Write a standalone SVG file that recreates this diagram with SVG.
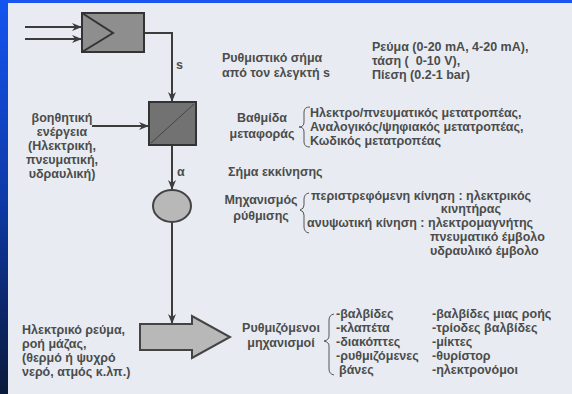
<svg xmlns="http://www.w3.org/2000/svg" width="572" height="394" viewBox="0 0 572 394">
<defs>
<linearGradient id="side" x1="0" y1="0" x2="0" y2="1">
<stop offset="0" stop-color="#1454f0"/>
<stop offset="0.5" stop-color="#0e3aa8"/>
<stop offset="1" stop-color="#0a1a3c"/>
</linearGradient>
<marker id="ah" viewBox="0 0 10 8" refX="10" refY="4" markerWidth="10" markerHeight="8" markerUnits="userSpaceOnUse" orient="auto">
<path d="M0,0 L10,4 L0,8 L3,4 z" fill="#3c3c3c"/>
</marker>
<style>
text{font-family:"Liberation Sans",Arial,sans-serif;font-size:12.5px;font-weight:bold;fill:#4c4c4c}
.c{text-anchor:middle}
.e{text-anchor:end}
.ln{fill:none;stroke:#3c3c3c;stroke-width:2}
.br{fill:none;stroke:#555;stroke-width:1}
.box{stroke:#333;stroke-width:2}
</style>
</defs>
<rect x="0" y="0" width="572" height="394" fill="#e8ecf2"/>
<rect x="0" y="0" width="572" height="3" fill="#1a55f2"/>
<rect x="0" y="0" width="8" height="394" fill="url(#side)"/>

<g id="connectors">
<line class="ln" x1="25" y1="27" x2="82" y2="27" marker-end="url(#ah)"/>
<line class="ln" x1="25" y1="39" x2="82" y2="39" marker-end="url(#ah)"/>
<polyline class="ln" points="144,33 172,33 172,102" marker-end="url(#ah)"/>
<line class="ln" x1="92" y1="126" x2="149" y2="126" marker-end="url(#ah)"/>
<line class="ln" x1="172" y1="145" x2="172" y2="190" marker-end="url(#ah)"/>
<line class="ln" x1="172" y1="222" x2="172" y2="324" marker-end="url(#ah)"/>
</g>

<g id="amplifier">
<rect class="box" x="82" y="13" width="62" height="39" fill="#8e8e8e"/>
<polyline points="82,13 113,33 82,52" fill="none" stroke="#333" stroke-width="2"/>
</g>

<g id="transfer">
<rect class="box" x="149" y="102" width="47" height="43" fill="#727272"/>
<line x1="151" y1="143" x2="194" y2="104" stroke="#444" stroke-width="1"/>
</g>

<g id="actuator">
<ellipse cx="172" cy="206" rx="19" ry="16" fill="#b8b8b8" stroke="#444" stroke-width="2"/>
</g>

<g id="controlled">
<polygon points="140,324 192,324 192,316 230,337 192,358 192,350 140,350" fill="#b8b8b8" stroke="#444" stroke-width="2"/>
</g>

<g id="labels-signals">
<text x="176" y="69">s</text>
<text x="177" y="176">α</text>
</g>

<g id="aux-energy">
<text class="c" x="62" y="122">βοηθητική</text>
<text class="c" x="62" y="136">ενέργεια</text>
<text class="c" x="62" y="150">(Ηλεκτρική,</text>
<text class="c" x="62" y="164">πνευματική,</text>
<text class="c" x="62" y="178">υδραυλική)</text>
</g>

<g id="signal-desc">
<text x="222" y="62">Ρυθμιστικό σήμα</text>
<text x="222" y="77">από τον ελεγκτή s</text>
<text x="372" y="51">Ρεύμα (0-20 mA, 4-20 mA),</text>
<text x="372" y="65" xml:space="preserve">τάση (  0-10 V),</text>
<text x="372" y="79">Πίεση (0.2-1 bar)</text>
</g>

<g id="transfer-desc">
<text class="c" x="262" y="122">Βαθμίδα</text>
<text class="c" x="262" y="138">μεταφοράς</text>
<path class="br" d="M310,107 Q304,107 304,112 L304,122 Q304,127 299,127 Q304,127 304,132 L304,142 Q304,147 310,147"/>
<text x="310" y="117">Ηλεκτρο/πνευματικός μετατροπέας,</text>
<text x="310" y="131">Αναλογικός/ψηφιακός μετατροπέας,</text>
<text x="310" y="145">Κωδικός μετατροπέας</text>
</g>

<g id="start-signal">
<text x="228" y="176">Σήμα εκκίνησης</text>
</g>

<g id="actuator-desc">
<text class="c" x="261" y="204">Μηχανισμός</text>
<text class="c" x="261" y="220">ρύθμισης</text>
<path class="br" d="M309,193 Q304,194 304,199 L304,205 Q304,209 300,210 Q304,211 304,215 L304,227 Q304,232 309,233"/>
<text x="311" y="200">περιστρεφόμενη κίνηση : ηλεκτρικός</text>
<text class="e" x="501" y="213">κινητήρας</text>
<text x="307" y="227">ανυψωτική κίνηση : ηλεκτρομαγνήτης</text>
<text x="430" y="241">πνευματικό έμβολο</text>
<text x="430" y="255">υδραυλικό έμβολο</text>
</g>

<g id="source-desc">
<text x="22" y="334">Ηλεκτρικό ρεύμα,</text>
<text x="22" y="348">ροή μάζας,</text>
<text x="22" y="362">(θερμό ή ψυχρό</text>
<text x="22" y="376">νερό, ατμός κ.λπ.)</text>
</g>

<g id="controlled-desc">
<text class="c" x="281" y="332">Ρυθμιζόμενοι</text>
<text class="c" x="281" y="347">μηχανισμοί</text>
<path class="br" d="M334,314 Q329,315 329,320 L329,336 Q329,340 324,341 Q329,342 329,346 L329,369 Q329,374 334,375"/>
<text x="336" y="318">-βαλβίδες</text>
<text x="336" y="332">-κλαπέτα</text>
<text x="336" y="346">-διακόπτες</text>
<text x="336" y="360">-ρυθμιζόμενες</text>
<text x="339" y="374">βάνες</text>
<text x="432" y="318">-βαλβίδες μιας ροής</text>
<text x="432" y="332">-τρίοδες βαλβίδες</text>
<text x="432" y="346">-μίκτες</text>
<text x="432" y="360">-θυρίστορ</text>
<text x="432" y="374">-ηλεκτρονόμοι</text>
</g>
</svg>
